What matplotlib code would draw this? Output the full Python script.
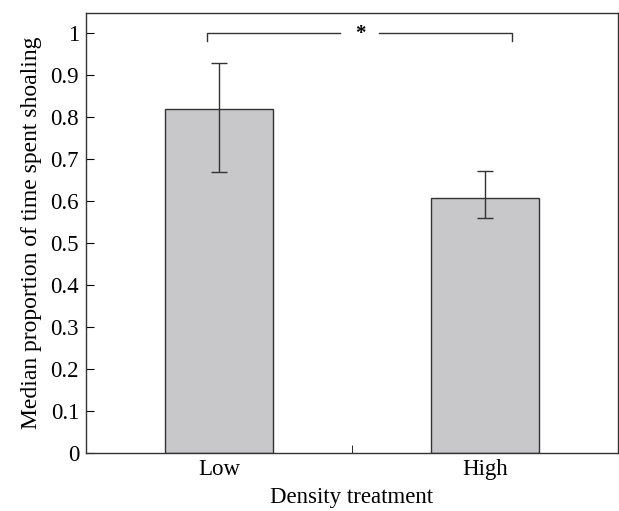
import numpy as np
import matplotlib.pyplot as plt

# Data
categories = ['Low', 'High']
medians = [0.82, 0.607]
err_low = [0.67, 0.56]
err_high = [0.93, 0.672]

plt.rcParams['font.family'] = ['Liberation Serif', 'DejaVu Serif']

fig = plt.figure(figsize=(6.19, 5.11), dpi=100)
ax = fig.add_axes([86/619, 1 - 453/511, (618 - 86)/619, (453 - 13)/511])

x = np.arange(len(categories))
yerr = [np.array(medians) - np.array(err_low), np.array(err_high) - np.array(medians)]
ax.bar(x, medians, width=0.405, color='#c8c8ca', edgecolor='#333333', linewidth=1.0, zorder=2)
ax.errorbar(x, medians, yerr=yerr, fmt='none', ecolor='#333333', elinewidth=1.0,
            capsize=6, capthick=1.0, zorder=3)

# Significance bracket
bx0, bx1, by, bdrop = -0.045, 1.1, 1.0, 0.018
ax.plot([bx0, bx0, 0.455], [by - bdrop, by, by], color='#333333', lw=1.0)
ax.plot([0.6, bx1, bx1], [by, by, by - bdrop], color='#333333', lw=1.0)
ax.text(0.53, by - 0.003, '*', ha='center', va='center', fontsize=15, fontweight='bold')

ax.set_xlim(-0.5, 1.5)
ax.set_ylim(0, 1.048)
ax.set_xticks(x)
ax.set_xticklabels(categories)
ax.set_xticks([0.5], minor=True)
ax.tick_params(axis='x', which='major', length=0, labelsize=16.5, pad=4)
ax.tick_params(axis='x', which='minor', direction='in', length=6)
ax.set_yticks(np.arange(0, 1.01, 0.1))
ax.set_yticklabels(['0'] + ['%.1f' % v for v in np.arange(0.1, 0.95, 0.1)] + ['1'])
ax.tick_params(axis='y', direction='in', length=6, labelsize=16.5, pad=5)
for s in ax.spines.values():
    s.set_color('#333333')
    s.set_linewidth(1.0)

ax.set_xlabel('Density treatment', fontsize=16.5, labelpad=5)
ax.set_ylabel('Median proportion of time spent shoaling', fontsize=17, labelpad=6)

fig.savefig('out.png', dpi=100)
